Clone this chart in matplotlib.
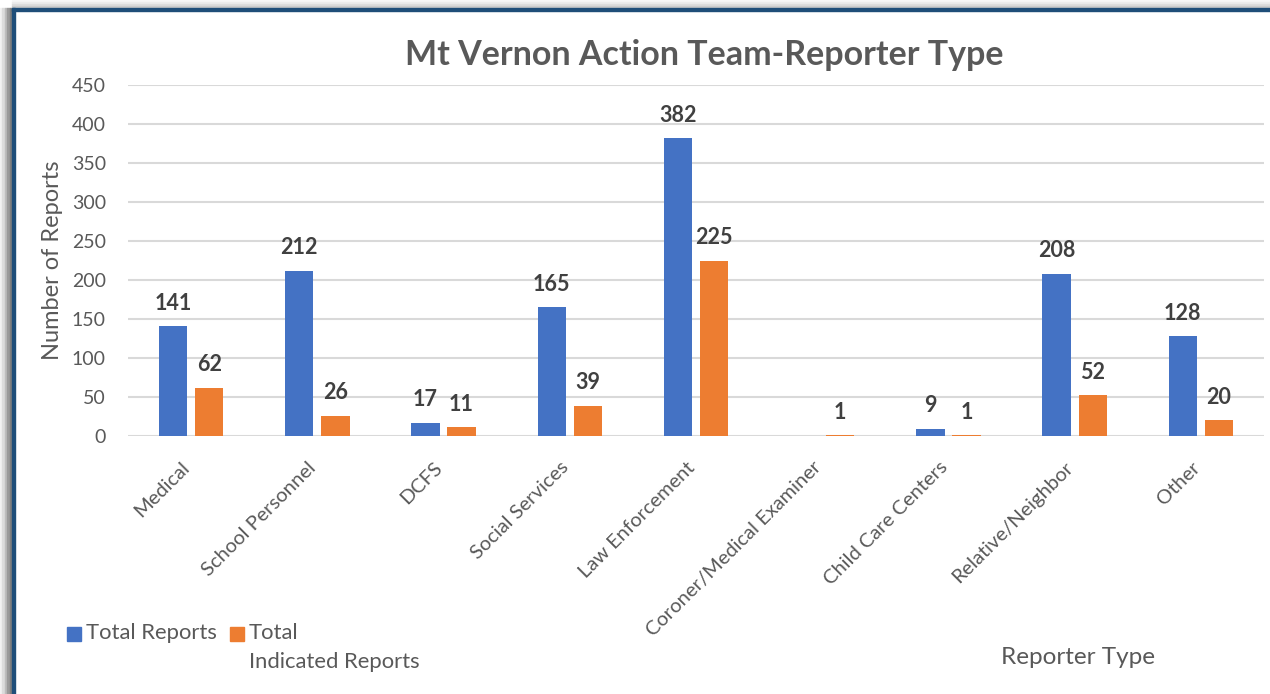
import numpy as np
import matplotlib.pyplot as plt
import matplotlib.transforms as mtransforms
from matplotlib.patches import Rectangle

plt.rcParams['font.family'] = ['Lato', 'DejaVu Sans']

categories = ['Medical', 'School Personnel', 'DCFS', 'Social Services', 'Law Enforcement',
              'Coroner/Medical Examiner', 'Child Care Centers', 'Relative/Neighbor', 'Other']
total_reports = [141, 212, 17, 165, 382, 0, 9, 208, 128]
indicated_reports = [62, 26, 11, 39, 225, 1, 1, 52, 20]
yticks = [0, 50, 100, 150, 200, 250, 300, 350, 400, 450]

blue = '#4472C4'
orange = '#ED7D31'
grey_txt = '#595959'

fig = plt.figure(figsize=(12.7, 6.94), dpi=100)
ax = fig.add_axes([128 / 1270, 1 - 436 / 694, (1264 - 128) / 1270, (436 - 85) / 694])

x = np.arange(len(categories))
w = 0.225
off = 0.143
b1 = ax.bar(x - off, total_reports, w, color=blue, zorder=3)
b2 = ax.bar(x + off, indicated_reports, w, color=orange, zorder=3)

# data labels (no label for empty bars)
for bars, vals in [(b1, total_reports), (b2, indicated_reports)]:
    for r, v in zip(bars, vals):
        if v == 0:
            continue
        ax.annotate(str(v), (r.get_x() + r.get_width() / 2, v), xytext=(0, 9),
                    textcoords='offset points', ha='center', va='bottom',
                    fontsize=15.5, fontweight='bold', color='#404040')

ax.set_xlim(-0.5, len(categories) - 0.5)
ax.set_ylim(0, 450)
ax.set_yticks(yticks)
ax.yaxis.grid(True, color='#D9D9D9', linewidth=1.5, zorder=0)
ax.set_axisbelow(True)
for s in ax.spines.values():
    s.set_visible(False)
ax.tick_params(axis='both', length=0, colors=grey_txt, labelsize=14)
ax.tick_params(axis='y', pad=16)
ax.set_xticks(x)
ax.set_xticklabels(categories, rotation=45, ha='right', va='top', rotation_mode='anchor')
ax.tick_params(axis='x', labelsize=14.5, pad=12)
# nudge rotated labels down-left like Excel does
shift = mtransforms.ScaledTranslation(-10 / 100, -6 / 100, fig.dpi_scale_trans)
for lbl in ax.get_xticklabels():
    lbl.set_transform(lbl.get_transform() + shift)

ax.set_ylabel('Number of Reports', fontsize=17, color=grey_txt, labelpad=6)

fig.text(704 / 1270, 1 - 55 / 694, 'Mt Vernon Action Team-Reporter Type', ha='center', va='center',
         fontsize=24.5, fontweight='bold', color=grey_txt)
fig.text(1078 / 1270, 1 - 658 / 694, 'Reporter Type', ha='center', va='center',
         fontsize=17.5, color=grey_txt)

# legend
fig.patches.append(Rectangle((67 / 1270, 1 - 641 / 694), 14 / 1270, 14 / 694,
                             transform=fig.transFigure, color=blue))
fig.text(86 / 1270, 1 - 633 / 694, 'Total Reports', ha='left', va='center', fontsize=15.8, color=grey_txt)
fig.patches.append(Rectangle((230 / 1270, 1 - 641 / 694), 14 / 1270, 14 / 694,
                             transform=fig.transFigure, color=orange))
fig.text(249 / 1270, 1 - 633 / 694, 'Total', ha='left', va='center', fontsize=15.8, color=grey_txt)
fig.text(249 / 1270, 1 - 662 / 694, 'Indicated Reports', ha='left', va='center', fontsize=15.8, color=grey_txt)

# chart frame with shadow
for i, g in enumerate(['#f2f2f2', '#dcdcdc', '#bdbdbd', '#9a9a9a', '#7f7f7f']):
    fig.patches.append(Rectangle((i * 2.4 / 1270, 0), 2.4 / 1270, 1 - 8 / 694,
                                 transform=fig.transFigure, color=g, zorder=0))
for i, g in enumerate(['#f7f7f7', '#ececec', '#dddddd', '#cccccc']):
    fig.patches.append(Rectangle((12 / 1270, 1 - (i + 1) * 2 / 694), 1, 2 / 694,
                                 transform=fig.transFigure, color=g, zorder=0))
fig.patches.append(Rectangle((12 / 1270, 0), 3 / 1270, 1 - 8 / 694,
                             transform=fig.transFigure, color='#1F4E79', zorder=1))
fig.patches.append(Rectangle((12 / 1270, 1 - 11 / 694), 1, 3 / 694,
                             transform=fig.transFigure, color='#1F4E79', zorder=1))

fig.savefig('out.png', dpi=100)
